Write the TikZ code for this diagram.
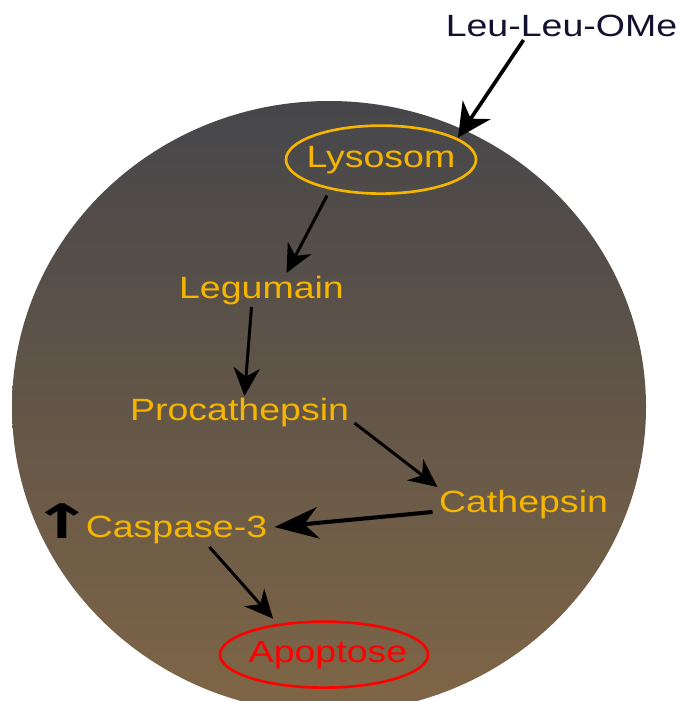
\documentclass[tikz,border=0pt]{standalone}
\usepackage{fontspec}
\setmainfont[FakeStretch=1.22]{Liberation Sans}
\newfontfamily\arrowfont[FakeStretch=1.6]{DejaVu Sans}
\usetikzlibrary{arrows.meta,calc}
\definecolor{cellTop}{rgb}{0.275,0.275,0.290}
\definecolor{cellBottom}{rgb}{0.500,0.400,0.275}
\definecolor{labelGold}{rgb}{0.960,0.710,0.000}
\definecolor{labelNavy}{rgb}{0.070,0.070,0.190}
\definecolor{labelRed}{rgb}{1.000,0.000,0.000}
\tikzset{
  lbl/.style={font=\fontsize{17.5pt}{21pt}\selectfont,inner sep=0pt,anchor=base},
  arr/.style={line width=1.7pt,-{Stealth[length=16pt,width=15pt,inset=5pt]}},
  bigarr/.style={line width=2.1pt,-{Stealth[length=19pt,width=19pt,inset=6pt]}},
  longarr/.style={line width=2.3pt,-{Stealth[length=25pt,width=18pt,inset=8pt]}}
}
\begin{document}
\begin{tikzpicture}[x=0.2mm,y=-0.2mm]
\useasboundingbox (0,0) rectangle (684,701);
\begin{scope}
\clip (0,0) rectangle (684,701);
\shade[top color=cellTop,bottom color=cellBottom] (329,407) ellipse [x radius=317,y radius=306];
\end{scope}
\node[lbl,text=labelNavy] (leu) at (561.5,37) {Leu-Leu-OMe};
\node[lbl,text=labelGold] (lys) at (381,167) {Lysosom};
\draw[labelGold,line width=1.5pt] (lys.center) ellipse [x radius=95,y radius=34];
\node[lbl,text=labelGold] (leg) at (261.5,298) {Legumain};
\node[lbl,text=labelGold] (proc) at (239.5,420) {Procathepsin};
\node[lbl,text=labelGold] (cath) at (523.5,512) {Cathepsin};
\node[lbl,text=labelGold] (casp) at (176.5,537) {Caspase-3};
\node[lbl,font=\fontsize{27pt}{30pt}\selectfont] (up) at (62,538) {\arrowfont\bfseries ↑};
\node[lbl,text=labelRed] (apop) at (328,662) {Apoptose};
\draw[labelRed,line width=1.5pt] ($(apop.center)+(-4,0)$) ellipse [x radius=104,y radius=33];
\draw[bigarr] ($(leu.base)+(-38,3)$) -- ($(lys.center)+(77,-22)$);
\draw[arr] ($(lys.center)+(-54,36)$) -- ($(leg.base)+(25,-25)$);
\draw[arr] ($(leg.base)+(-10,9)$) -- ($(proc.base)+(5,-24)$);
\draw[arr] ($(proc.base)+(115,3)$) -- ($(cath.base)+(-86,-25)$);
\draw[longarr] ($(cath.base)+(-91,0)$) -- ($(casp.base)+(98,-10)$);
\draw[arr] ($(casp.base)+(33,10)$) -- ($(apop.center)+(-55,-36)$);
\end{tikzpicture}
\end{document}
